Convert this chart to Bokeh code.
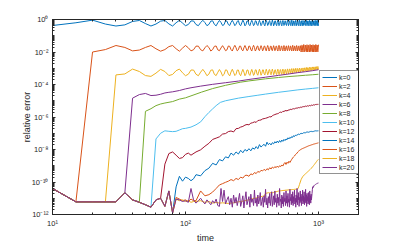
from bokeh.plotting import figure
from bokeh.models import FixedTicker, LogAxis, Legend, LegendItem
from bokeh.embed import file_html
from bokeh.resources import INLINE

# ---------------- data (values are log10 of the relative error) ----------------
t_fine = list(range(10, 1001, 5))        # 10 .. 1000, step 5
t_early = list(range(10, 85, 5))         # 10 .. 80
t_mid = list(range(85, 120, 5))          # 85 .. 115
t_coarse = list(range(120, 1001, 10))    # 120 .. 1000
t_k12 = list(range(10, 115, 5))          # 10 .. 110

baseline = [-10.40, -11.22, -11.22, -11.22, -11.22, -10.67, -11.10, -11.25,
            -11.40, -11.55, -11.10, -11.00, -11.50, -10.55, -11.90]

k0_log = [
    -0.37, -0.20, -0.04, -0.28, -0.40, -0.33, -0.12, -0.06, -0.25, -0.40,
    -0.28, -0.10, -0.06, -0.27, -0.40, -0.20, -0.05, -0.22, -0.38,
    -0.31, -0.09, -0.09, -0.31, -0.38, -0.19, -0.05, -0.19, -0.38,
    -0.30, -0.10, -0.08, -0.30, -0.39, -0.20, -0.06, -0.18, -0.37,
    -0.32, -0.08, -0.10, -0.31, -0.37, -0.18, -0.05, -0.20, -0.38,
    -0.29, -0.11, -0.07, -0.32, -0.38, -0.21, -0.04, -0.17, -0.39,
    -0.31, -0.09, -0.09, -0.31, -0.38, -0.19, -0.05, -0.19, -0.38,
    -0.32, -0.08, -0.10, -0.31, -0.37, -0.18, -0.05, -0.20, -0.38,
    -0.30, -0.10, -0.08, -0.30, -0.39, -0.20, -0.06, -0.18, -0.37,
    -0.29, -0.11, -0.07, -0.32, -0.38, -0.21, -0.04, -0.17, -0.39,
    -0.31, -0.09, -0.09, -0.31, -0.38, -0.19, -0.05, -0.19, -0.38,
    -0.30, -0.10, -0.08, -0.30, -0.39, -0.20, -0.06, -0.18, -0.37,
    -0.32, -0.08, -0.10, -0.31, -0.37, -0.18, -0.05, -0.20, -0.38,
    -0.29, -0.11, -0.07, -0.32, -0.38, -0.21, -0.04, -0.17, -0.39,
    -0.31, -0.09, -0.09, -0.31, -0.38, -0.19, -0.05, -0.19, -0.38,
    -0.29, -0.11, -0.07, -0.32, -0.38, -0.21, -0.04, -0.17, -0.39,
    -0.30, -0.10, -0.08, -0.30, -0.39, -0.20, -0.06, -0.18, -0.37,
    -0.32, -0.08, -0.10, -0.31, -0.37, -0.18, -0.05, -0.20, -0.38,
    -0.31, -0.09, -0.09, -0.31, -0.38, -0.19, -0.05, -0.19, -0.38,
    -0.30, -0.10, -0.08, -0.30, -0.39, -0.20, -0.06, -0.18, -0.37,
    -0.32, -0.08, -0.10, -0.31, -0.37, -0.18, -0.05, -0.20, -0.38,
    -0.29, -0.11, -0.07, -0.32, -0.38, -0.21, -0.04, -0.17, -0.39,
]

k2_log = [
    -10.40, -11.22, -2.00, -1.85, -1.60, -1.72, -1.93, -1.88, -1.72, -1.60,
    -1.80, -1.95, -1.85, -1.67, -1.60, -1.80, -1.95, -1.76, -1.60,
    -1.74, -1.93, -1.86, -1.64, -1.64, -1.86, -1.93, -1.74, -1.60,
    -1.72, -1.94, -1.85, -1.65, -1.63, -1.87, -1.92, -1.75, -1.61,
    -1.75, -1.92, -1.87, -1.63, -1.65, -1.85, -1.94, -1.73, -1.59,
    -1.74, -1.93, -1.86, -1.64, -1.64, -1.86, -1.93, -1.74, -1.60,
    -1.75, -1.92, -1.87, -1.63, -1.65, -1.85, -1.94, -1.73, -1.59,
    -1.72, -1.94, -1.85, -1.65, -1.63, -1.87, -1.92, -1.75, -1.61,
    -1.74, -1.93, -1.86, -1.64, -1.64, -1.86, -1.93, -1.74, -1.60,
    -1.72, -1.94, -1.85, -1.65, -1.63, -1.87, -1.92, -1.75, -1.61,
    -1.75, -1.92, -1.87, -1.63, -1.65, -1.85, -1.94, -1.73, -1.59,
    -1.74, -1.93, -1.86, -1.64, -1.64, -1.86, -1.93, -1.74, -1.60,
    -1.72, -1.94, -1.85, -1.65, -1.63, -1.87, -1.92, -1.75, -1.61,
    -1.75, -1.92, -1.87, -1.63, -1.65, -1.85, -1.94, -1.73, -1.59,
    -1.74, -1.93, -1.86, -1.64, -1.64, -1.86, -1.93, -1.74, -1.60,
    -1.72, -1.94, -1.85, -1.65, -1.63, -1.87, -1.92, -1.75, -1.61,
    -1.76, -2.00, -1.90, -1.58, -1.60, -1.90, -2.00, -1.76, -1.54,
    -1.74, -1.98, -1.92, -1.57, -1.62, -1.91, -1.99, -1.75, -1.55,
    -1.76, -2.00, -1.90, -1.58, -1.60, -1.90, -2.00, -1.76, -1.54,
    -1.74, -1.98, -1.92, -1.57, -1.62, -1.91, -1.99, -1.75, -1.55,
    -1.76, -2.00, -1.90, -1.58, -1.60, -1.90, -2.00, -1.76, -1.54,
    -1.74, -1.98, -1.92, -1.57, -1.62, -1.91, -1.99, -1.75, -1.55,
]

k4_log = [
    -10.40, -11.22, -11.22, -11.22, -3.41, -3.35, -3.05, -3.20, -3.45, -3.50,
    -3.30, -3.07, -3.20, -3.45, -3.38, -3.15, -3.05, -3.28, -3.46,
    -3.37, -3.11, -3.11, -3.37, -3.46, -3.24, -3.07, -3.24, -3.46,
    -3.36, -3.12, -3.10, -3.38, -3.45, -3.25, -3.08, -3.23, -3.47,
    -3.38, -3.10, -3.12, -3.36, -3.47, -3.23, -3.06, -3.25, -3.45,
    -3.37, -3.11, -3.11, -3.37, -3.46, -3.24, -3.07, -3.24, -3.46,
    -3.36, -3.11, -3.11, -3.36, -3.44, -3.23, -3.07, -3.23, -3.44,
    -3.35, -3.10, -3.10, -3.35, -3.43, -3.22, -3.06, -3.22, -3.43,
    -3.33, -3.10, -3.10, -3.33, -3.41, -3.21, -3.06, -3.21, -3.41,
    -3.32, -3.09, -3.09, -3.32, -3.40, -3.20, -3.05, -3.20, -3.40,
    -3.32, -3.10, -3.10, -3.32, -3.39, -3.20, -3.06, -3.20, -3.39,
    -3.31, -3.09, -3.09, -3.31, -3.38, -3.19, -3.05, -3.19, -3.38,
    -3.28, -3.08, -3.08, -3.28, -3.35, -3.17, -3.04, -3.17, -3.35,
    -3.25, -3.05, -3.05, -3.25, -3.31, -3.14, -3.02, -3.14, -3.31,
    -3.21, -3.03, -3.03, -3.21, -3.27, -3.12, -3.00, -3.12, -3.27,
    -3.18, -3.02, -3.02, -3.18, -3.24, -3.10, -2.99, -3.10, -3.24,
    -3.16, -3.01, -3.01, -3.16, -3.21, -3.08, -2.98, -3.08, -3.21,
    -3.13, -2.98, -2.98, -3.13, -3.18, -3.05, -2.95, -3.05, -3.18,
    -3.10, -2.97, -2.97, -3.10, -3.15, -3.03, -2.94, -3.03, -3.15,
    -3.08, -2.95, -2.95, -3.08, -3.13, -3.01, -2.92, -3.01, -3.13,
    -3.06, -2.93, -2.93, -3.06, -3.10, -2.99, -2.91, -2.99, -3.10,
    -3.04, -2.91, -2.91, -3.04, -3.08, -2.97, -2.89, -2.97, -3.08,
]

t_k6 = [10, 15, 20, 25, 30, 35, 40, 45, 50, 55, 60, 65, 70, 75, 80, 90, 100,
        110, 130, 160, 200, 250, 300, 400, 500, 600, 700, 800, 900, 1000]
k6_log = [-10.40, -11.22, -11.22, -11.22, -11.22, -10.67, -4.84, -4.62, -4.55,
          -4.68, -4.66, -4.60, -4.52, -4.48, -4.45, -4.37, -4.27, -4.20, -4.10,
          -3.99, -3.89, -3.79, -3.69, -3.55, -3.44, -3.35, -3.27, -3.21, -3.15,
          -3.09]

t_k8 = [10, 15, 20, 25, 30, 35, 40, 45, 50, 55, 60, 65, 70, 80, 90, 100, 110,
        132, 160, 200, 258, 300, 400, 500, 600, 700, 800, 900, 1000]
k8_log = [-10.40, -11.22, -11.22, -11.22, -11.22, -10.67, -11.10, -11.22, -5.65,
          -5.49, -5.30, -5.20, -5.14, -5.05, -4.90, -4.82, -4.70, -4.47, -4.25,
          -4.05, -3.86, -3.78, -3.65, -3.57, -3.51, -3.47, -3.43, -3.40, -3.37]

t_k10 = [10, 15, 20, 25, 30, 35, 40, 45, 50, 55, 60, 65, 70, 75, 80, 85, 90, 95,
         100, 110, 120, 130, 140, 150, 160, 170, 183, 200, 250, 300, 350, 400,
         500, 600, 700, 800, 900, 1000]
k10_log = [-10.40, -11.22, -11.22, -11.22, -11.22, -10.67, -11.10, -11.25, -11.40,
           -11.55, -7.35, -7.00, -6.85, -6.88, -6.90, -6.88, -6.80, -6.72, -6.70,
           -6.62, -6.48, -6.30, -5.98, -5.72, -5.50, -5.30, -5.10, -5.00, -4.84,
           -4.74, -4.66, -4.59, -4.48, -4.40, -4.33, -4.28, -4.24, -4.20]

k12_head = [-10.40, -11.22, -11.22, -11.22, -11.22, -10.67, -11.10, -11.25,
            -11.40, -11.55, -11.10, -11.00,
            -8.90, -8.25, -8.15, -8.35, -8.55, -8.50, -8.30, -8.22, -8.35]
k12_tail = [
    -8.15, -8.02, -7.80, -7.62, -7.38, -7.30, -7.22, -7.05, -7.02, -6.90,
    -6.86, -6.92, -6.72, -6.70, -6.62, -6.58, -6.50, -6.46, -6.48, -6.38,
    -6.35, -6.30, -6.33, -6.22, -6.20, -6.18, -6.12, -6.10, -6.08, -6.05,
    -6.02, -5.98, -6.00, -5.92, -5.88, -5.85, -5.82, -5.80, -5.78, -5.72,
    -5.70, -5.72, -5.65, -5.66, -5.62, -5.60, -5.63, -5.58, -5.57, -5.55,
    -5.52, -5.54, -5.50, -5.49, -5.50, -5.47, -5.45, -5.46, -5.44, -5.42,
    -5.43, -5.40, -5.39, -5.41, -5.37, -5.36, -5.38, -5.34, -5.33, -5.35,
    -5.32, -5.31, -5.33, -5.30, -5.29, -5.31, -5.28, -5.27, -5.29, -5.26,
    -5.25, -5.27, -5.24, -5.23, -5.25, -5.22, -5.23, -5.21, -5.22,
]

k14_mid = [-10.30, -9.65, -9.95, -9.70, -9.78, -9.92, -9.80]
k14_tail = [
    -9.55, -9.62, -9.30, -9.15, -8.85, -8.95, -8.62, -8.70, -8.45, -8.52,
    -8.22, -8.35, -8.15, -8.28, -8.05, -8.20, -8.00, -8.10, -7.95, -8.08,
    -7.90, -7.98, -7.82, -7.95, -7.70, -7.85, -7.75, -7.68, -7.80, -7.55,
    -7.70, -7.62, -7.72, -7.58, -7.65, -7.52, -7.60, -7.48, -7.58, -7.45,
    -7.55, -7.42, -7.50, -7.38, -7.45, -7.35, -7.40, -7.28, -7.35, -7.25,
    -7.30, -7.20, -7.25, -7.15, -7.20, -7.12, -7.15, -7.08, -7.10, -7.05,
    -7.08, -7.02, -7.04, -6.99, -7.02, -6.97, -6.99, -6.95, -6.97, -6.93,
    -6.95, -6.92, -6.94, -6.90, -6.92, -6.89, -6.91, -6.88, -6.90, -6.87,
    -6.89, -6.86, -6.88, -6.85, -6.87, -6.85, -6.86, -6.84, -6.85,
]

k16_mid = [-10.95, -11.05, -11.15, -11.10, -11.20, -11.05, -11.15]
k16_tail = [
    -11.15, -10.55, -10.85, -10.78, -10.62, -10.40, -10.18, -10.10, -10.02, -9.95,
    -9.85, -9.92, -9.78, -9.85, -9.70, -9.76, -9.60, -9.58, -9.65, -9.50,
    -9.55, -9.42, -9.48, -9.35, -9.40, -9.28, -9.32, -9.22, -9.30, -9.18,
    -9.25, -9.12, -9.20, -9.08, -9.15, -9.05, -9.12, -9.02, -9.10, -9.00,
    -9.05, -8.95, -9.02, -8.88, -8.80, -8.92, -8.78, -8.85, -8.72, -8.80,
    -8.70, -8.60, -8.52, -8.45, -8.40, -8.32, -8.28, -8.22, -8.15, -8.10,
    -8.05, -8.02, -7.99, -7.96, -7.94, -7.92, -7.90, -7.88, -7.86, -7.84,
    -7.82, -7.80, -7.78, -7.77, -7.75, -7.74, -7.72, -7.71, -7.70, -7.68,
    -7.67, -7.66, -7.65, -7.64, -7.63, -7.62, -7.61, -7.60, -7.59,
]

k18_mid = [-11.05, -11.15, -11.10, -11.20, -11.15, -11.25, -11.20]
k18_tail = [
    -11.20, -11.15, -11.25, -11.20, -11.30, -11.25, -11.30, -11.28, -11.30, -11.32,
    -11.30, -11.28, -11.25, -11.22, -11.20, -11.18, -11.15, -11.12, -11.10, -11.05,
    -11.02, -11.00, -10.98, -10.95, -10.92, -10.90, -10.88, -10.87, -10.70, -10.68,
    -10.66, -10.67, -10.65, -10.66, -10.64, -10.62, -10.60, -10.58, -10.56, -10.55,
    -10.54, -10.53, -10.52, -10.52, -10.51, -10.50, -10.50, -10.49, -10.48, -10.48,
    -10.47, -10.47, -10.46, -10.46, -10.45, -10.45, -10.44, -10.43, -10.42, -10.30,
    -10.15, -10.00, -9.86, -9.76, -9.68, -9.62, -9.57, -9.53, -9.49, -9.45,
    -9.41, -9.37, -9.33, -9.29, -9.25, -9.21, -9.17, -9.13, -9.08, -9.03,
    -8.98, -8.93, -8.88, -8.83, -8.78, -8.73, -8.68, -8.64, -8.60,
]

k20_tail = [
    -11.05, -11.10, -11.20, -11.15, -11.25, -10.40, -11.10, -11.30, -11.15, -11.00,
    -11.20, -11.35, -11.10, -11.25, -11.40, -11.15, -11.30, -11.05, -11.45, -11.50,
    -10.40, -11.20, -10.50, -11.35, -11.10, -10.90, -11.40, -11.00, -11.55, -10.80,
    -11.30, -10.95, -11.45, -11.10, -10.70, -11.50, -11.20, -10.85, -11.60, -11.05,
    -10.60, -11.40, -11.15, -10.90, -11.55, -10.75, -11.25, -11.05, -11.45, -10.50,
    -11.30, -11.00, -11.50, -10.80, -11.35, -11.10, -10.65, -11.45, -11.20, -10.95,
    -11.55, -10.85, -11.25, -10.45, -11.40, -11.00, -11.60, -10.90, -11.30, -10.70,
    -11.45, -11.05, -10.60, -11.50, -11.15, -10.85, -11.40, -10.55, -11.25, -11.00,
    -11.55, -10.75, -11.30, -10.95, -11.45, -10.40, -11.20, -11.05, -11.60, -10.80,
    -11.35, -10.90, -11.50, -10.65, -11.20, -11.00, -11.45, -10.55, -11.30, -10.85,
    -11.50, -10.70, -11.25, -11.05, -11.55, -10.45, -11.15, -10.95, -11.40, -10.75,
    -11.30, -10.60, -11.45, -10.90, -11.20, -10.50, -11.35, -11.00, -11.55, -10.80,
    -11.25, -10.40, -11.40, -10.85, -11.10, -10.65, -11.50, -10.95, -11.30, -10.55,
    -11.20, -10.75, -11.45, -10.90, -11.15, -10.50, -11.35, -10.85, -11.25, -10.60,
    -11.40, -10.95, -11.20, -10.45, -11.30, -10.80, -11.50, -10.70, -11.15, -10.90,
    -11.35, -10.65, -11.25, -11.00, -11.40, -10.55, -11.20, -10.85, -11.30, -10.75,
    -11.10, -10.90, -10.70, -10.45, -10.30, -10.35, -10.25, -10.28, -10.22, -10.20,
    -10.20, -10.18, -10.17, -10.15, -10.14, -10.13, -10.12, -10.10, -10.09, -10.08,
    -10.08, -10.07, -10.06, -10.06,
]

labels = ["k=0", "k=2", "k=4", "k=6", "k=8", "k=10", "k=12", "k=14", "k=16", "k=18", "k=20"]
colors = ["#0072BD", "#D95319", "#EDB120", "#7E2F8E", "#77AC30", "#4DBEEE",
          "#A2142F", "#0072BD", "#D95319", "#EDB120", "#7E2F8E"]

y_tick_vals = [1e-12, 1e-10, 1e-8, 1e-6, 1e-4, 1e-2, 1.0]
y_tick_text = ["10⁻¹²", "10⁻¹⁰", "10⁻⁸", "10⁻⁶", "10⁻⁴", "10⁻²", "10⁰"]
x_tick_vals = [10.0, 100.0, 1000.0]
x_tick_text = ["10¹", "10²", "10³"]

# ---------------- assemble series ----------------
series_t = [t_fine, t_fine, t_fine, t_k6, t_k8, t_k10,
            t_k12 + t_coarse,
            t_early + t_mid + t_coarse,
            t_early + t_mid + t_coarse,
            t_early + t_mid + t_coarse,
            t_early + t_fine[15:]]
series_v = [k0_log, k2_log, k4_log, k6_log, k8_log, k10_log,
            k12_head + k12_tail,
            baseline + k14_mid + k14_tail,
            baseline + k16_mid + k16_tail,
            baseline + k18_mid + k18_tail,
            baseline + k20_tail]

AXC = "#262626"
FONT = "Liberation Sans"

p = figure(width=381, height=245, x_axis_type="log", y_axis_type="log",
           x_range=(10, 2000), y_range=(1e-12, 1.0),
           output_backend="svg", toolbar_location=None,
           min_border_left=52, min_border_right=23, min_border_top=19,
           min_border_bottom=28)
p.xgrid.visible = False
p.ygrid.visible = False
p.outline_line_color = AXC
p.outline_line_width = 1
p.background_fill_color = "white"
p.border_fill_color = "white"

renderers = []
for lab, t, v, c in zip(labels, series_t, series_v, colors):
    assert len(t) == len(v), (lab, len(t), len(v))
    r = p.line(t, [10.0 ** e for e in v], line_color=c, line_width=1)
    renderers.append(r)

y_minor = [m * 10.0 ** e for e in range(-12, 0) for m in range(1, 10)]
x_minor = [m * 10.0 ** e for e in range(1, 4) for m in range(1, 10) if m * 10.0 ** e <= 2000]
yt = FixedTicker(ticks=y_tick_vals, minor_ticks=y_minor)
xt = FixedTicker(ticks=x_tick_vals, minor_ticks=x_minor)


def style_axis(ax, show):
    ax.axis_line_color = AXC
    ax.axis_line_width = 1
    ax.major_tick_line_color = AXC
    ax.minor_tick_line_color = AXC
    ax.major_tick_in = 3
    ax.major_tick_out = 0
    ax.minor_tick_in = 2
    ax.minor_tick_out = 0
    ax.major_label_text_font = FONT
    ax.major_label_text_font_size = "7.5px"
    if show:
        ax.major_label_text_color = AXC
        ax.major_label_standoff = 4
    else:
        ax.major_label_text_color = None
        ax.major_label_standoff = 0


p.xaxis[0].ticker = xt
p.yaxis[0].ticker = yt
p.xaxis[0].major_label_overrides = dict(zip(x_tick_vals, x_tick_text))
p.yaxis[0].major_label_overrides = dict(zip(y_tick_vals, y_tick_text))
style_axis(p.xaxis[0], True)
style_axis(p.yaxis[0], True)

for ax, name, standoff in [(p.yaxis[0], "relative error", -3), (p.xaxis[0], "time", 2)]:
    ax.axis_label = name
    ax.axis_label_text_font = FONT
    ax.axis_label_text_font_size = "9px"
    ax.axis_label_text_font_style = "normal"
    ax.axis_label_text_color = AXC
    ax.axis_label_standoff = standoff

right_ax = LogAxis(ticker=yt)
style_axis(right_ax, False)
p.add_layout(right_ax, "right")
top_ax = LogAxis(ticker=xt)
style_axis(top_ax, False)
p.add_layout(top_ax, "above")

legend = Legend(items=[LegendItem(label=l, renderers=[r]) for l, r in zip(labels, renderers)],
                location=(267, 40), orientation="vertical",
                label_text_font=FONT, label_text_font_size="7px", label_text_color=AXC,
                glyph_width=15, glyph_height=8, label_height=8, label_standoff=2,
                spacing=1, padding=2, margin=0,
                border_line_color=AXC, border_line_width=0.8,
                background_fill_color="white", background_fill_alpha=1.0)
p.add_layout(legend)

open("out.html", "w").write(file_html(p, INLINE))
